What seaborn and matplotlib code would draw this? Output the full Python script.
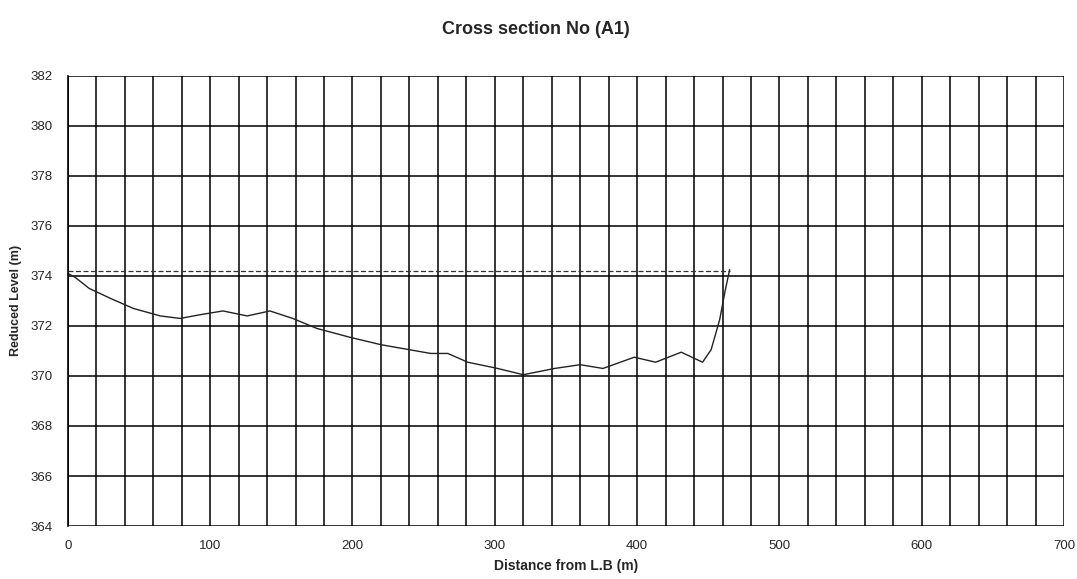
import numpy as np
import pandas as pd
import matplotlib
matplotlib.use("Agg")
import matplotlib.pyplot as plt
import seaborn as sns

# ground profile
distance = [0, 5, 15, 30, 46, 65, 79, 93, 109, 126, 142, 158, 175, 198, 220, 255,
            267, 281, 302, 320, 342, 360, 376, 398, 413, 431, 446, 452, 458, 462, 465]
level = [374.1, 373.95, 373.5, 373.1, 372.7, 372.4, 372.3, 372.45, 372.6, 372.4, 372.6,
         372.3, 371.9, 371.55, 371.25, 370.9, 370.9, 370.55, 370.3, 370.05, 370.3,
         370.45, 370.3, 370.75, 370.55, 370.95, 370.55, 371.05, 372.25, 373.45, 374.25]

# water surface
water_x = [0, 465]
water_y = [374.2, 374.2]

x_ticks = [0, 100, 200, 300, 400, 500, 600, 700]
y_ticks = [364, 366, 368, 370, 372, 374, 376, 378, 380, 382]

sns.set_style("white")
plt.rcParams['font.family'] = ['Liberation Sans', 'DejaVu Sans']

fig = plt.figure(figsize=(10.77, 5.79), dpi=100)
ax = fig.add_axes([0.063, 0.0915, 0.925, 0.7775])

profile = pd.DataFrame({"Distance": distance, "Level": level})
water = pd.DataFrame({"Distance": water_x, "Level": water_y})

sns.lineplot(data=water, x="Distance", y="Level", ax=ax, color="#333333",
             linewidth=0.9, linestyle=(0, (4, 2)), sort=False)
sns.lineplot(data=profile, x="Distance", y="Level", ax=ax, color="#222222",
             linewidth=1.0, sort=False)

ax.set_xlim(0, 700)
ax.set_ylim(364, 382)
ax.set_xticks(x_ticks)
ax.set_yticks(y_ticks)
ax.set_xticks(np.arange(0, 701, 20), minor=True)
ax.grid(which="both", axis="x", color="black", linewidth=1.1)
ax.grid(which="major", axis="y", color="black", linewidth=1.1)
ax.tick_params(which="both", length=0)
ax.tick_params(axis="x", pad=10, labelsize=9.5)
ax.tick_params(axis="y", pad=11, labelsize=9.5)

for s in ["top", "right", "bottom"]:
    ax.spines[s].set_visible(False)
ax.spines["left"].set_color("black")
ax.spines["left"].set_linewidth(1.2)

fig.text(536 / 1077, 1 - 30 / 579, "Cross section No (A1)", fontsize=13,
         fontweight="bold", ha="center", va="center")
ax.set_xlabel("Distance from L.B (m)", fontsize=10, fontweight="bold", labelpad=5)
ax.set_ylabel("Reduced Level (m)", fontsize=9, fontweight="bold", labelpad=6)

fig.savefig("out.png", dpi=100)
